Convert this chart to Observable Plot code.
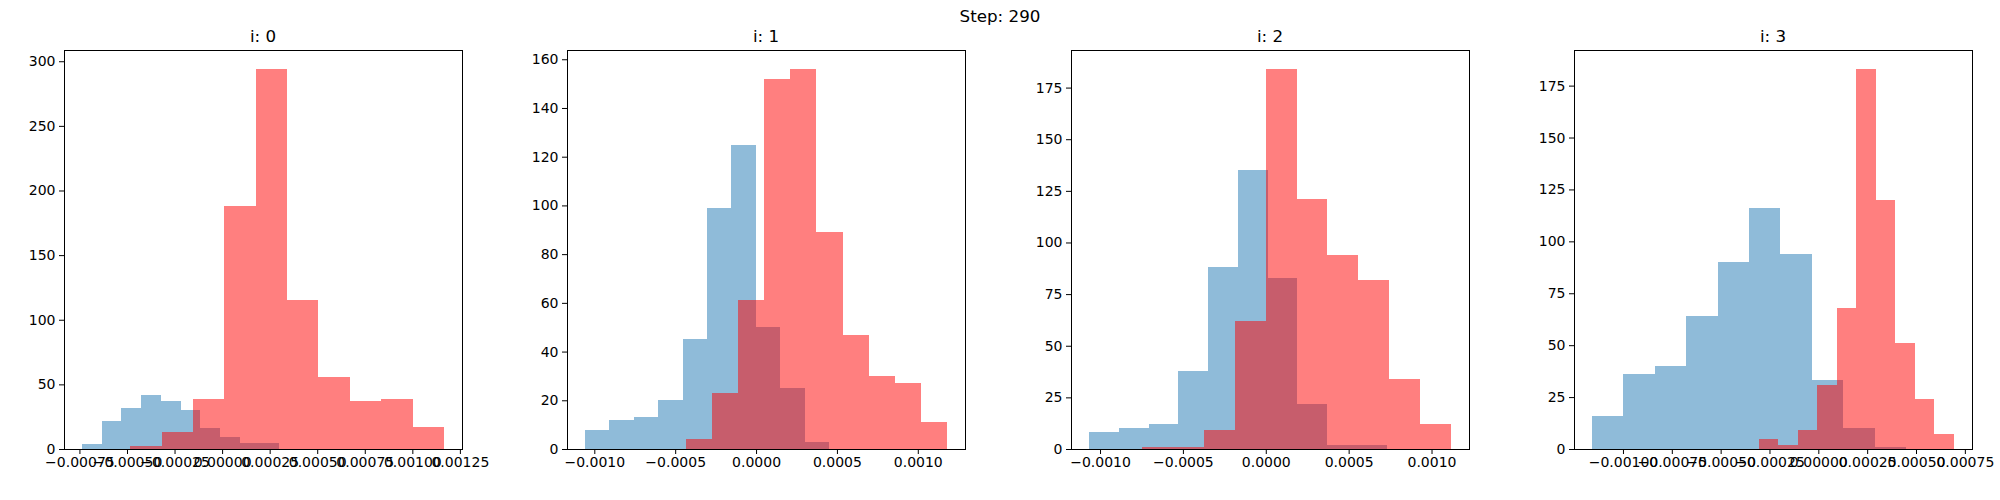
<!DOCTYPE html>
<html>
<head>
<meta charset="utf-8">
<script src="https://cdn.jsdelivr.net/npm/d3@7"></script>
<script src="https://cdn.jsdelivr.net/npm/@observablehq/plot@0.6"></script>
<style>
  body { margin: 0; background: #fff; font-family: "DejaVu Sans", sans-serif; }
  #fig { position: relative; width: 2000px; height: 500px; }
  .ttl { position: absolute; font-size: 16.7px; transform: translateX(-50%); white-space: nowrap; }
  .panel { position: absolute; }
</style>
</head>
<body>
<div id="fig"></div>
<script>
  /* histogram data: bin range + counts (10 equal bins) */
  const panelTitles = ['i: 0', 'i: 1', 'i: 2', 'i: 3']
  const blueRange = [[-0.000736, 0.0002995], [-0.001057, 0.000451], [-0.001066, 0.00073], [-0.001158, 0.000449]]
  const blueCounts = [
    [4, 22, 32, 42, 37, 30, 16, 9, 5, 5],
    [8, 12, 13, 20, 45, 99, 125, 50, 25, 3],
    [8, 10, 12, 38, 88, 135, 83, 22, 2, 2],
    [16, 36, 40, 64, 90, 116, 94, 33, 10, 1],
  ]
  const redRange = [[-0.000483, 0.001166], [-0.000433, 0.00118], [-0.000746, 0.001117], [-0.000304, 0.000694]]
  const redCounts = [
    [2, 13, 39, 188, 294, 115, 56, 37, 39, 17],
    [4, 23, 61, 152, 156, 89, 47, 30, 27, 11],
    [1, 1, 9, 62, 184, 121, 94, 82, 34, 12],
    [5, 2, 9, 31, 68, 183, 120, 51, 24, 7],
  ]
  const xTicks = [
    [-0.00075, -0.0005, -0.00025, 0, 0.00025, 0.0005, 0.00075, 0.001, 0.00125],
    [-0.001, -0.0005, 0, 0.0005, 0.001],
    [-0.001, -0.0005, 0, 0.0005, 0.001],
    [-0.001, -0.00075, -0.0005, -0.00025, 0, 0.00025, 0.0005, 0.00075],
  ]
  const xFormats = ['.5f', '.4f', '.4f', '.5f']
  const yTicks = [
    [0, 50, 100, 150, 200, 250, 300],
    [0, 20, 40, 60, 80, 100, 120, 140, 160],
    [0, 25, 50, 75, 100, 125, 150, 175],
    [0, 25, 50, 75, 100, 125, 150, 175],
  ]

  const axesLeft = [64, 567, 1071, 1574]
  const axesTop = 50
  const mL = 50, mR = 26, mT = 10, mB = 30, W = 398, H = 399

  const fig = d3.select('#fig')
  fig.append('div').attr('class', 'ttl').style('left', '1000px').style('top', '6px').text('Step: 290')

  function bins(range, counts) {
    const w = (range[1] - range[0]) / counts.length
    return counts.map((c, i) => ({x1: range[0] + i * w, x2: range[0] + (i + 1) * w, y: c}))
  }

  panelTitles.forEach((t, k) => {
    const blue = bins(blueRange[k], blueCounts[k])
    const red = bins(redRange[k], redCounts[k])
    const lo = Math.min(blueRange[k][0], redRange[k][0])
    const hi = Math.max(blueRange[k][1], redRange[k][1])
    const pad = (hi - lo) * 0.05
    const ymax = d3.max(blueCounts[k].concat(redCounts[k])) * 1.05

    const chart = Plot.plot({
      width: mL + W + mR,
      height: mT + H + mB,
      marginLeft: mL, marginRight: mR, marginTop: mT, marginBottom: mB,
      style: {fontSize: '14px', fontFamily: 'DejaVu Sans', color: 'black', background: 'transparent', overflow: 'visible'},
      x: {domain: [lo - pad, hi + pad], ticks: xTicks[k], tickFormat: d3.format(xFormats[k]), label: null, tickSize: 5, tickPadding: 3},
      y: {domain: [0, ymax], ticks: yTicks[k], label: null, tickSize: 5, tickPadding: 4},
      marks: [
        Plot.rectY(blue, {x1: 'x1', x2: 'x2', y: 'y', fill: '#1f77b4', fillOpacity: 0.5, inset: 0, shapeRendering: 'crispEdges'}),
        Plot.rectY(red, {x1: 'x1', x2: 'x2', y: 'y', fill: 'red', fillOpacity: 0.5, inset: 0, shapeRendering: 'crispEdges'}),
        Plot.frame({stroke: 'black'}),
      ],
    })

    fig.append('div').attr('class', 'panel')
      .style('left', (axesLeft[k] - mL) + 'px').style('top', (axesTop - mT) + 'px')
      .append(() => chart)
    fig.append('div').attr('class', 'ttl')
      .style('left', (axesLeft[k] + W / 2) + 'px').style('top', '26px').text(t)
  })
</script>
</body>
</html>
